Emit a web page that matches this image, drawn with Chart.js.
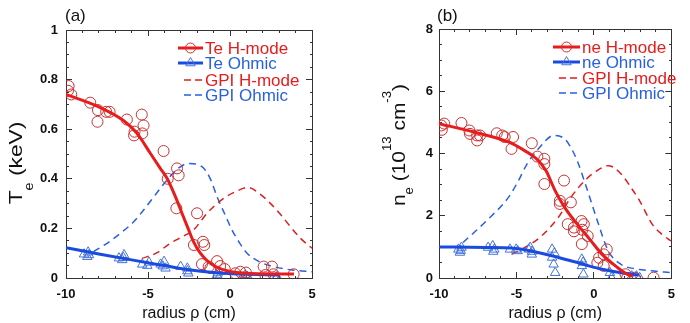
<!DOCTYPE html>
<html>
<head>
<meta charset="utf-8">
<script src="https://cdn.jsdelivr.net/npm/chart.js@4.4.0/dist/chart.umd.min.js"></script>
<style>
  html, body { margin: 0; padding: 0; background: #fff; }
  #wrap { position: relative; width: 690px; height: 323px; }
  canvas { position: absolute; top: 0; }
  #teChart, #teDeco { left: 0; }
  #neChart, #neDeco { left: 345px; }
  .deco { pointer-events: none; }
</style>
</head>
<body>
<div id="wrap">
  <canvas id="teChart" width="345" height="323"></canvas>
  <canvas id="neChart" width="345" height="323"></canvas>
  <canvas id="teDeco" class="deco" width="345" height="323"></canvas>
  <canvas id="neDeco" class="deco" width="345" height="323"></canvas>
</div>
<script>
// ---- Data (a): electron temperature, keV ----
const teHmodeR = [-9.84, -9.88, -9.68, -8.52, -8.05, -8.08, -7.55, -7.34, -6.29, -5.82, -5.85, -5.38, -5.27, -5.35,
  -4.05, -3.8, -3.23, -3.13, -3.27, -2.01, -2.2, -1.65, -1.57, -1.71, -1.3, -1.2, -0.79, -0.6, -0.32,
  0.32, 0.63, 0.97, 2.05, 2.15, 2.56, 2.65, 3.88];
const teHmodeT = [0.774, 0.755, 0.740, 0.707, 0.677, 0.630, 0.670, 0.670, 0.639, 0.590, 0.575, 0.659, 0.615, 0.583,
  0.512, 0.400, 0.442, 0.414, 0.281, 0.261, 0.133, 0.146, 0.133, 0.056, 0.046, 0.040, 0.068, 0.048, 0.036,
  0.019, 0.025, 0.022, 0.046, 0.012, 0.046, 0.015, 0.015];
const teHmodeFitR = [-10, -8, -6.5, -5.67, -4.86, -4.25, -3.84, -3.33, -2.93, -2.52, -2.22, -1.81, -1.2, -0.18, 1.3, 3.9];
const teHmodeFitT = [0.740, 0.69, 0.635, 0.583, 0.503, 0.442, 0.402, 0.328, 0.261, 0.194, 0.146, 0.100, 0.059, 0.029, 0.018, 0.016];

const teOhmicR = [-8.9, -8.7, -8.6, -8.65, -6.77, -6.46, -6.57, -6.5, -5.35, -4.94, -5.04, -4.23, -4.02, -3.93, -4.1,
  -3.01, -2.6, -2.54, -2.6, -0.79, -0.69, -0.75, 0.93, 1.13, 1.05, 2.87, 2.8];
const teOhmicT = [0.096, 0.086, 0.093, 0.104, 0.080, 0.093, 0.073, 0.082, 0.055, 0.063, 0.050, 0.055, 0.066, 0.039, 0.048,
  0.046, 0.039, 0.019, 0.028, 0.012, 0.001, 0.020, 0.012, 0.001, 0.006, 0.005, 0.001];
const teOhmicFitR = [-10, -8, -6, -4, -2.5, -1, 0.5, 3];
const teOhmicFitT = [0.122, 0.097, 0.073, 0.050, 0.033, 0.022, 0.016, 0.012];

const gpiHmodeTeR = [-5.37, -4.5, -3.64, -2.8, -2.22, -1.4, -0.39, 0.4, 1.1, 1.8, 2.46, 3.1, 3.68, 4.3, 5.0];
const gpiHmodeTeV = [0.079, 0.100, 0.140, 0.170, 0.194, 0.261, 0.321, 0.350, 0.365, 0.340, 0.301, 0.255, 0.207, 0.160, 0.120];
const gpiOhmicTeR = [-8.32, -7.5, -6.69, -5.9, -5.27, -4.5, -3.84, -3.2, -2.52, -1.71, -1.2, -0.79, -0.3, 0.12, 0.6, 1.04, 1.8, 2.66, 3.8, 5.0];
const gpiOhmicTeV = [0.106, 0.140, 0.180, 0.225, 0.274, 0.340, 0.395, 0.440, 0.462, 0.449, 0.400, 0.328, 0.255, 0.194, 0.140, 0.100, 0.065, 0.046, 0.032, 0.025];

// ---- Data (b): electron density, 10^13 cm^-3 ----
const neHmodeR = [-9.85, -9.82, -9.66, -8.55, -8.04, -8.0, -7.54, -7.54, -7.35, -6.27, -5.92, -5.76, -5.22, -5.32,
  -4.01, -3.65, -3.2, -3.2, -3.2, -1.93, -2.2, -2.2, -1.49, -1.69, -1.29, -1.29, -0.8, -0.65, -0.75, -0.78, -0.4,
  0.22, 0.33, 0.63, 0.83, 0.63, 2.04, 2.14, 2.64, 3.85];
const neHmodeN = [4.90, 4.76, 4.96, 4.98, 4.74, 4.63, 4.58, 4.42, 4.58, 4.65, 4.58, 4.53, 4.53, 4.15,
  4.33, 3.90, 3.83, 3.66, 3.02, 3.13, 2.48, 2.38, 2.43, 1.73, 1.62, 1.50, 1.83, 1.73, 1.55, 1.09, 1.35,
  0.49, 0.65, 0.76, 0.92, 0.39, 0.12, 0.00, 0.01, 0.01];
const neHmodeFitR = [-10, -7.74, -5.52, -4.5, -3.71, -3.1, -2.5, -1.89, -1.08, -0.28, 0.53, 1.54, 2.14, 2.5];
const neHmodeFitN = [4.96, 4.69, 4.37, 4.10, 3.83, 3.45, 2.80, 2.27, 1.73, 1.25, 0.76, 0.33, 0.12, 0.06];

const neOhmicR = [-8.75, -8.55, -8.65, -8.6, -6.83, -6.53, -6.43, -6.5, -5.42, -5.02, -4.92, -4.21, -4.01, -4.11, -4.0,
  -2.7, -2.7, -2.6, -2.5, -2.55, -0.78, -0.78, -0.68, -0.7, 1.03, 1.13, 2.44, 2.75, 2.95];
const neOhmicN = [0.92, 0.98, 0.82, 0.88, 0.98, 1.03, 0.92, 0.85, 0.92, 0.92, 0.87, 0.92, 0.76, 0.98, 0.85,
  0.92, 0.66, 0.44, 0.17, 0.80, 0.60, 0.39, 0.12, 0.50, 0.17, 0.01, 0.06, 0.06, 0.01];
const neOhmicFitR = [-10, -7, -5.32, -3.9, -2.29, -0.68, 0.53, 1.74, 2.9];
const neOhmicFitN = [1.00, 0.98, 0.96, 0.85, 0.66, 0.44, 0.28, 0.17, 0.10];

const gpiHmodeNeR = [-5.32, -4.4, -3.5, -2.29, -1.49, -0.48, 0.2, 0.93, 1.74, 2.4, 2.95, 3.76, 4.4, 4.97];
const gpiHmodeNeV = [0.76, 1.00, 1.30, 1.95, 2.59, 3.18, 3.45, 3.61, 3.35, 2.90, 2.48, 1.73, 1.40, 1.19];
const gpiOhmicNeR = [-8.45, -6.93, -5.52, -4.9, -4.31, -3.5, -2.6, -1.89, -1.5, -1.08, -0.48, 0.22, 0.93, 1.74, 2.6, 3.76, 4.97];
const gpiOhmicNeV = [1.14, 1.84, 2.59, 3.10, 3.67, 4.20, 4.58, 4.47, 4.20, 3.77, 2.91, 1.84, 0.87, 0.44, 0.30, 0.23, 0.17];

// axis tick settings (major step, minor step)
const xTicks = { min: -10, max: 5, step: 5, minor: 1 };
const teTicks = { min: 0, max: 1, step: 0.2, minor: 0.05 };
const neTicks = { min: 0, max: 8, step: 2, minor: 0.5 };

// ---- Styles ----
const FAMILY = '"Liberation Sans", Arial, Helvetica, sans-serif';
const RED = 'rgb(232,28,28)';
const CIRCLE_RED = 'rgb(200,50,50)';
const BLUE = 'rgb(25,75,225)';
const TRI_BLUE = 'rgb(70,115,215)';
const GPI_RED = 'rgb(222,30,30)';
const GPI_BLUE = 'rgb(40,95,228)';
const FRAME = '#333';

//Helper Functions
const toPoints = (xs, ys) => xs.map((x, i) => ({ x: x, y: ys[i] }));

const isMajor = (value, t) => {
  const k = (value - t.min) / t.step;
  return Math.abs(k - Math.round(k)) < 1e-6;
};

const fitLine = (xs, ys, color) => ({
  data: toPoints(xs, ys),
  xAxisID: "x",
  yAxisID: "y",
  showLine: true,
  borderColor: color,
  borderWidth: 3,
  pointRadius: 0,
  tension: 0.4,
  cubicInterpolationMode: "monotone",
  fill: false,
  order: 0,
});

const gpiLine = (xs, ys, color) => ({
  data: toPoints(xs, ys),
  xAxisID: "x",
  yAxisID: "y",
  showLine: true,
  borderColor: color,
  borderWidth: 1.5,
  borderDash: [7, 5],
  pointRadius: 0,
  tension: 0.4,
  cubicInterpolationMode: "monotone",
  fill: false,
  order: 3,
});

const markers = (xs, ys, color, style, radius) => ({
  data: toPoints(xs, ys),
  xAxisID: "x",
  yAxisID: "y",
  showLine: false,
  pointStyle: style,
  pointRadius: radius,
  pointBorderWidth: 1,
  pointBorderColor: color,
  pointBackgroundColor: "rgba(0,0,0,0)",
  order: 1,
});

// Vertical text with sub/superscripts
const drawVerticalTitle = (ctx, cx, cy, parts, stretch) => {
  ctx.save();
  ctx.translate(cx, cy);
  ctx.rotate(-Math.PI / 2);
  ctx.scale(stretch, 1);
  const widths = [];
  let total = 0;
  parts.forEach((p) => {
    ctx.font = `${p.size}px ${FAMILY}`;
    const w = ctx.measureText(p.text).width;
    widths.push(w);
    total += w;
  });
  let x = -total / 2;
  ctx.fillStyle = "#111";
  ctx.textBaseline = "alphabetic";
  ctx.textAlign = "left";
  parts.forEach((p, i) => {
    ctx.font = `${p.size}px ${FAMILY}`;
    ctx.fillText(p.text, x, p.shift);
    x += widths[i];
  });
  ctx.restore();
};

const drawMarker = (ctx, kind, x, y, color) => {
  ctx.save();
  ctx.strokeStyle = color;
  ctx.lineWidth = 1;
  ctx.setLineDash([]);
  ctx.beginPath();
  if (kind === "circle") {
    ctx.arc(x, y, 5, 0, Math.PI * 2);
  } else {
    const r = 5.5;
    ctx.moveTo(x, y - r);
    ctx.lineTo(x + r * 0.866, y + r * 0.5);
    ctx.lineTo(x - r * 0.866, y + r * 0.5);
    ctx.closePath();
  }
  ctx.stroke();
  ctx.restore();
};

// Panel label, y title and legend, on an overlay canvas
const decorate = (decoId, opts) => {
  const ctx = document.getElementById(decoId).getContext("2d");
  ctx.fillStyle = "#111";
  ctx.font = `17px ${FAMILY}`;
  ctx.textBaseline = "middle";
  ctx.textAlign = "left";
  ctx.fillText(opts.label, opts.labelX, 16);

  drawVerticalTitle(ctx, opts.titleX, opts.titleY, opts.titleParts, opts.titleStretch);

  opts.legend.forEach((item, i) => {
    const y = opts.legendY[i];
    ctx.save();
    ctx.strokeStyle = item.color;
    if (item.kind === "dash") {
      ctx.lineWidth = 1.5;
      ctx.setLineDash([7, 4]);
      ctx.beginPath();
      ctx.moveTo(opts.legendX0 + 6, y);
      ctx.lineTo(opts.legendX1, y);
      ctx.stroke();
    } else {
      ctx.lineWidth = 3;
      ctx.beginPath();
      ctx.moveTo(opts.legendX0, y);
      ctx.lineTo(opts.legendX1, y);
      ctx.stroke();
      drawMarker(ctx, item.kind, (opts.legendX0 + opts.legendX1) / 2, y, item.markerColor);
    }
    ctx.restore();
    ctx.fillStyle = item.textColor;
    ctx.font = `17px ${FAMILY}`;
    ctx.textBaseline = "middle";
    ctx.textAlign = "left";
    ctx.fillText(item.text, opts.legendX1 + 2, y + 1);
  });
};

const tickFont = { family: FAMILY, size: 13, weight: "bold" };

// inward tick marks: majors 6px, minors cut to 3px with a dash pattern
// (bottom/right ticks run from the border inward, left/top ticks run toward the border)
const inwardGrid = (t, fromBorder) => ({
  display: true,
  drawOnChartArea: false,
  drawTicks: true,
  tickLength: -6,
  tickColor: FRAME,
  tickWidth: 1,
  tickBorderDash: (c) => (c.tick && isMajor(c.tick.value, t) ? [] : fromBorder ? [3, 50] : [0, 3, 3, 50]),
});
const frameBorder = { display: true, color: FRAME, width: 1 };

const makeScales = (t, yWidth, yPad) => ({
  x: {
    type: "linear",
    position: "bottom",
    min: xTicks.min,
    max: xTicks.max,
    ticks: {
      stepSize: xTicks.minor, maxTicksLimit: 100, padding: 15, font: tickFont, color: "#111",
      autoSkip: false, maxRotation: 0,
      callback: (v) => (isMajor(v, xTicks) ? `${Math.round(v)}` : ""),
    },
    grid: inwardGrid(xTicks, true),
    border: frameBorder,
    title: { display: true, text: "radius ρ (cm)", color: "#111", font: { family: FAMILY, size: 16 }, padding: { top: 0, bottom: 0 } },
    afterFit: (scale) => { scale.height = 45; },
  },
  y: {
    type: "linear",
    position: "left",
    min: t.min,
    max: t.max,
    ticks: {
      stepSize: t.minor, maxTicksLimit: 100, padding: yPad, font: tickFont, color: "#111", autoSkip: false,
      callback: (v) => (isMajor(v, t) ? `${Math.round(v * 100) / 100}` : ""),
    },
    grid: inwardGrid(t, false),
    border: frameBorder,
    afterFit: (scale) => { scale.width = yWidth; },
  },
  x2: {
    type: "linear",
    position: "top",
    min: xTicks.min,
    max: xTicks.max,
    ticks: { display: false, stepSize: xTicks.minor, maxTicksLimit: 100, autoSkip: false },
    grid: inwardGrid(xTicks, false),
    border: frameBorder,
    afterFit: (scale) => { scale.height = 0; },
  },
  y2: {
    type: "linear",
    position: "right",
    min: t.min,
    max: t.max,
    ticks: { display: false, stepSize: t.minor, maxTicksLimit: 100, autoSkip: false },
    grid: inwardGrid(t, true),
    border: frameBorder,
    afterFit: (scale) => { scale.width = 0; },
  },
});

const baseOptions = (t, padding, yWidth, yPad) => ({
  responsive: false,
  animation: false,
  devicePixelRatio: 1,
  layout: { padding: padding, autoPadding: false },
  plugins: { legend: { display: false }, tooltip: { enabled: false } },
  scales: makeScales(t, yWidth, yPad),
});

//Charts
const teChart = () => {
  const canvas = document.getElementById("teChart");
  const data = {
    datasets: [
      fitLine(teHmodeFitR, teHmodeFitT, RED),
      fitLine(teOhmicFitR, teOhmicFitT, BLUE),
      markers(teHmodeR, teHmodeT, CIRCLE_RED, "circle", 5.5),
      markers(teOhmicR, teOhmicT, TRI_BLUE, "triangle", 5.5),
      gpiLine(gpiHmodeTeR, gpiHmodeTeV, GPI_RED),
      gpiLine(gpiOhmicTeR, gpiOhmicTeV, GPI_BLUE),
    ],
  };
  new Chart(canvas, {
    type: "scatter",
    data: data,
    options: baseOptions(teTicks, { top: 30, right: 33, left: 0, bottom: 0 }, 66, 14),
  });
  decorate("teDeco", {
    label: "(a)",
    labelX: 65,
    titleX: 22,
    titleY: 163,
    titleStretch: 1.2,
    titleParts: [
      { text: "T", size: 19, shift: 0 },
      { text: "e", size: 12, shift: 11 },
      { text: " (keV)", size: 19, shift: 0 },
    ],
    legendX0: 178,
    legendX1: 203,
    legendY: [48, 63, 80, 95],
    legend: [
      { text: "Te H-mode", kind: "circle", color: RED, markerColor: CIRCLE_RED, textColor: RED },
      { text: "Te Ohmic", kind: "triangle", color: BLUE, markerColor: TRI_BLUE, textColor: GPI_BLUE },
      { text: "GPI H-mode", kind: "dash", color: GPI_RED, textColor: RED },
      { text: "GPI Ohmic", kind: "dash", color: GPI_BLUE, textColor: GPI_BLUE },
    ],
  });
};

const neChart = () => {
  const canvas = document.getElementById("neChart");
  const data = {
    datasets: [
      fitLine(neHmodeFitR, neHmodeFitN, RED),
      fitLine(neOhmicFitR, neOhmicFitN, BLUE),
      markers(neHmodeR, neHmodeN, CIRCLE_RED, "circle", 5.5),
      markers(neOhmicR, neOhmicN, TRI_BLUE, "triangle", 5.5),
      gpiLine(gpiHmodeNeR, gpiHmodeNeV, GPI_RED),
      gpiLine(gpiOhmicNeR, gpiOhmicNeV, GPI_BLUE),
    ],
  };
  new Chart(canvas, {
    type: "scatter",
    data: data,
    options: baseOptions(neTicks, { top: 29, right: 3, left: 0, bottom: 0 }, 94, 12),
  });
  decorate("neDeco", {
    label: "(b)",
    labelX: 92,
    titleX: 60,
    titleY: 145,
    titleStretch: 1.1,
    titleParts: [
      { text: "n", size: 19, shift: 0 },
      { text: "e", size: 12, shift: 8 },
      { text: " (10", size: 19, shift: 0 },
      { text: "13", size: 12, shift: -14 },
      { text: " cm", size: 19, shift: 0 },
      { text: "-3", size: 12, shift: -14 },
      { text: ")", size: 19, shift: 0 },
    ],
    legendX0: 208,
    legendX1: 235,
    legendY: [47, 62, 78, 93],
    legend: [
      { text: "ne H-mode", kind: "circle", color: RED, markerColor: CIRCLE_RED, textColor: RED },
      { text: "ne Ohmic", kind: "triangle", color: BLUE, markerColor: TRI_BLUE, textColor: GPI_BLUE },
      { text: "GPI H-mode", kind: "dash", color: GPI_RED, textColor: RED },
      { text: "GPI Ohmic", kind: "dash", color: GPI_BLUE, textColor: GPI_BLUE },
    ],
  });
};

teChart();
neChart();
</script>
</body>
</html>
